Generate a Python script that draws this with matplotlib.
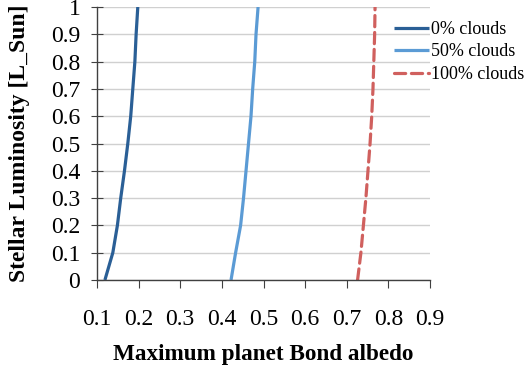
import matplotlib
matplotlib.use("Agg")
from matplotlib import pyplot as plt

plt.rcParams['font.family'] = ['Liberation Serif', 'DejaVu Serif']

# luminosity values (y) shared by all curves
lum = [0.0, 0.1, 0.2, 0.3, 0.4, 0.5, 0.6, 0.7, 0.8, 0.9, 1.0]

# maximum Bond albedo
alb_0 = [0.119, 0.138, 0.149, 0.157, 0.166, 0.174, 0.181, 0.186, 0.191, 0.194, 0.198]
alb_50 = [0.422, 0.433, 0.445, 0.452, 0.458, 0.464, 0.470, 0.474, 0.479, 0.482, 0.487]
alb_100 = [0.726, 0.734, 0.740, 0.746, 0.751, 0.756, 0.760, 0.763, 0.765, 0.767, 0.768]

labels = ['0% clouds', '50% clouds', '100% clouds']

fig = plt.figure(figsize=(5.27, 3.72), dpi=100)
ax = fig.add_axes([97/527, 1 - 280/372, 333/527, 273/372])

l1, = ax.plot(alb_0, lum, color='#2A5F96', lw=2.3, solid_capstyle='butt')
l2, = ax.plot(alb_50, lum, color='#5B9BD5', lw=2.3, solid_capstyle='butt')
l3, = ax.plot(alb_100, lum, color='#D0605E', lw=2.3, dashes=(3.5, 1.8), dash_capstyle='round')

ax.set_xlim(0.1, 0.9)
ax.set_ylim(0, 1)
ax.set_xticks([0.1, 0.2, 0.3, 0.4, 0.5, 0.6, 0.7, 0.8, 0.9])
ax.set_xticklabels(['0.1', '0.2', '0.3', '0.4', '0.5', '0.6', '0.7', '0.8', '0.9'])
ax.set_yticks(lum)
ax.set_yticklabels(['0', '0.1', '0.2', '0.3', '0.4', '0.5', '0.6', '0.7', '0.8', '0.9', '1'])
ax.grid(axis='y', color='#D0D0D0', lw=1)
ax.set_axisbelow(True)
for s in ['top', 'right']:
    ax.spines[s].set_visible(False)
for s in ['left', 'bottom']:
    ax.spines[s].set_color('#404040')
    ax.spines[s].set_linewidth(1)
ax.tick_params(axis='x', direction='out', length=6, color='#404040', labelsize=17, pad=15)
ax.tick_params(axis='y', direction='inout', length=8, color='#404040', labelsize=17, pad=8)

ax.set_xlabel('Maximum planet Bond albedo', fontsize=16.7, fontweight='bold', labelpad=10)
ax.set_ylabel('Stellar Luminosity [L_Sun]', fontsize=17, fontweight='bold', labelpad=15)

fig.legend([l1, l2, l3], labels, loc='upper left', bbox_to_anchor=(394/527, 1 - 21/372),
           frameon=False, fontsize=13, handlelength=1.95, handletextpad=0.1,
           labelspacing=0.3, borderpad=0, borderaxespad=0)

fig.savefig('out.png', dpi=100)
